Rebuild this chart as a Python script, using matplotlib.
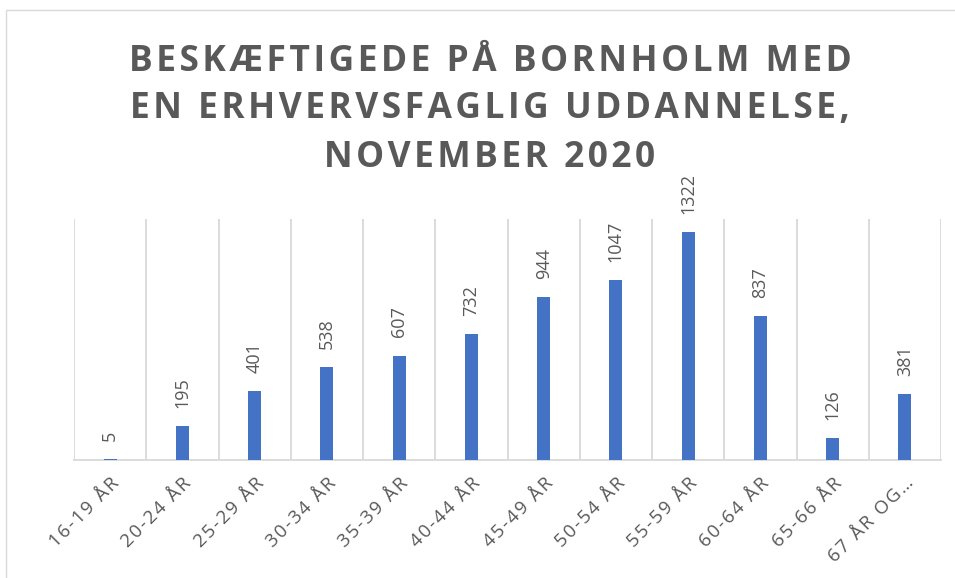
import matplotlib.pyplot as plt
from matplotlib.patches import Rectangle
import numpy as np

# data
categories = ["16-19 ÅR", "20-24 ÅR", "25-29 ÅR", "30-34 ÅR", "35-39 ÅR", "40-44 ÅR",
              "45-49 ÅR", "50-54 ÅR", "55-59 ÅR", "60-64 ÅR", "65-66 ÅR", "67 ÅR OG…"]
values = [5, 195, 401, 538, 607, 732, 944, 1047, 1322, 837, 126, 381]

title_lines = ["BESKÆFTIGEDE PÅ BORNHOLM MED",
               "EN ERHVERVSFAGLIG UDDANNELSE,",
               "NOVEMBER 2020"]

bar_color = "#4472C4"
text_color = "#595959"
grid_color = "#D9D9D9"

plt.rcParams['font.family'] = ['Open Sans', 'DejaVu Sans']

HAIR = "\u200a"


def spaced(s):
    # fake letter spacing with hair spaces
    return HAIR.join(s)


fig = plt.figure(figsize=(9.55, 5.78), dpi=100)
ax = fig.add_axes([74 / 955, 1 - 460 / 578, (941 - 74) / 955, (460 - 219) / 578])

x = np.arange(len(categories))
bars = ax.bar(x, values, width=0.18, color=bar_color, zorder=3)

# value labels, rotated
for xi, v in zip(x, values):
    ax.annotate(str(v), (xi, v), xytext=(0, 13), textcoords="offset points",
                rotation=90, ha="center", va="bottom", fontsize=13, color=text_color)

ax.set_xlim(-0.5, len(categories) - 0.5)
ax.set_ylim(0, 1400)
ax.set_yticks([])

# vertical gridlines between categories
for b in np.arange(-0.5, len(categories), 1.0):
    ax.axvline(b, color=grid_color, lw=1.3, zorder=1)

for s in ["top", "left", "right"]:
    ax.spines[s].set_visible(False)
ax.spines["bottom"].set_color(grid_color)
ax.spines["bottom"].set_linewidth(1.3)

ax.set_xticks(x)
ax.set_xticklabels([spaced(c) for c in categories], rotation=45, ha="right", va="top",
                   rotation_mode="anchor", fontsize=13.5, color=text_color)
ax.tick_params(axis="x", length=0, pad=10)

for i, (line, yc) in enumerate(zip(title_lines, [62, 109, 158])):
    fig.text(0.513, 1 - yc / 578, spaced(line), ha="center", va="center",
             fontsize=25.5, fontweight="bold", color=text_color)

# chart frame
fig.patches.append(Rectangle((6 / 955, -0.1), 1.2, 1 - 10 / 578 + 0.1,
                             transform=fig.transFigure, fill=False,
                             edgecolor=grid_color, lw=1))

fig.savefig("out.png", dpi=100)
